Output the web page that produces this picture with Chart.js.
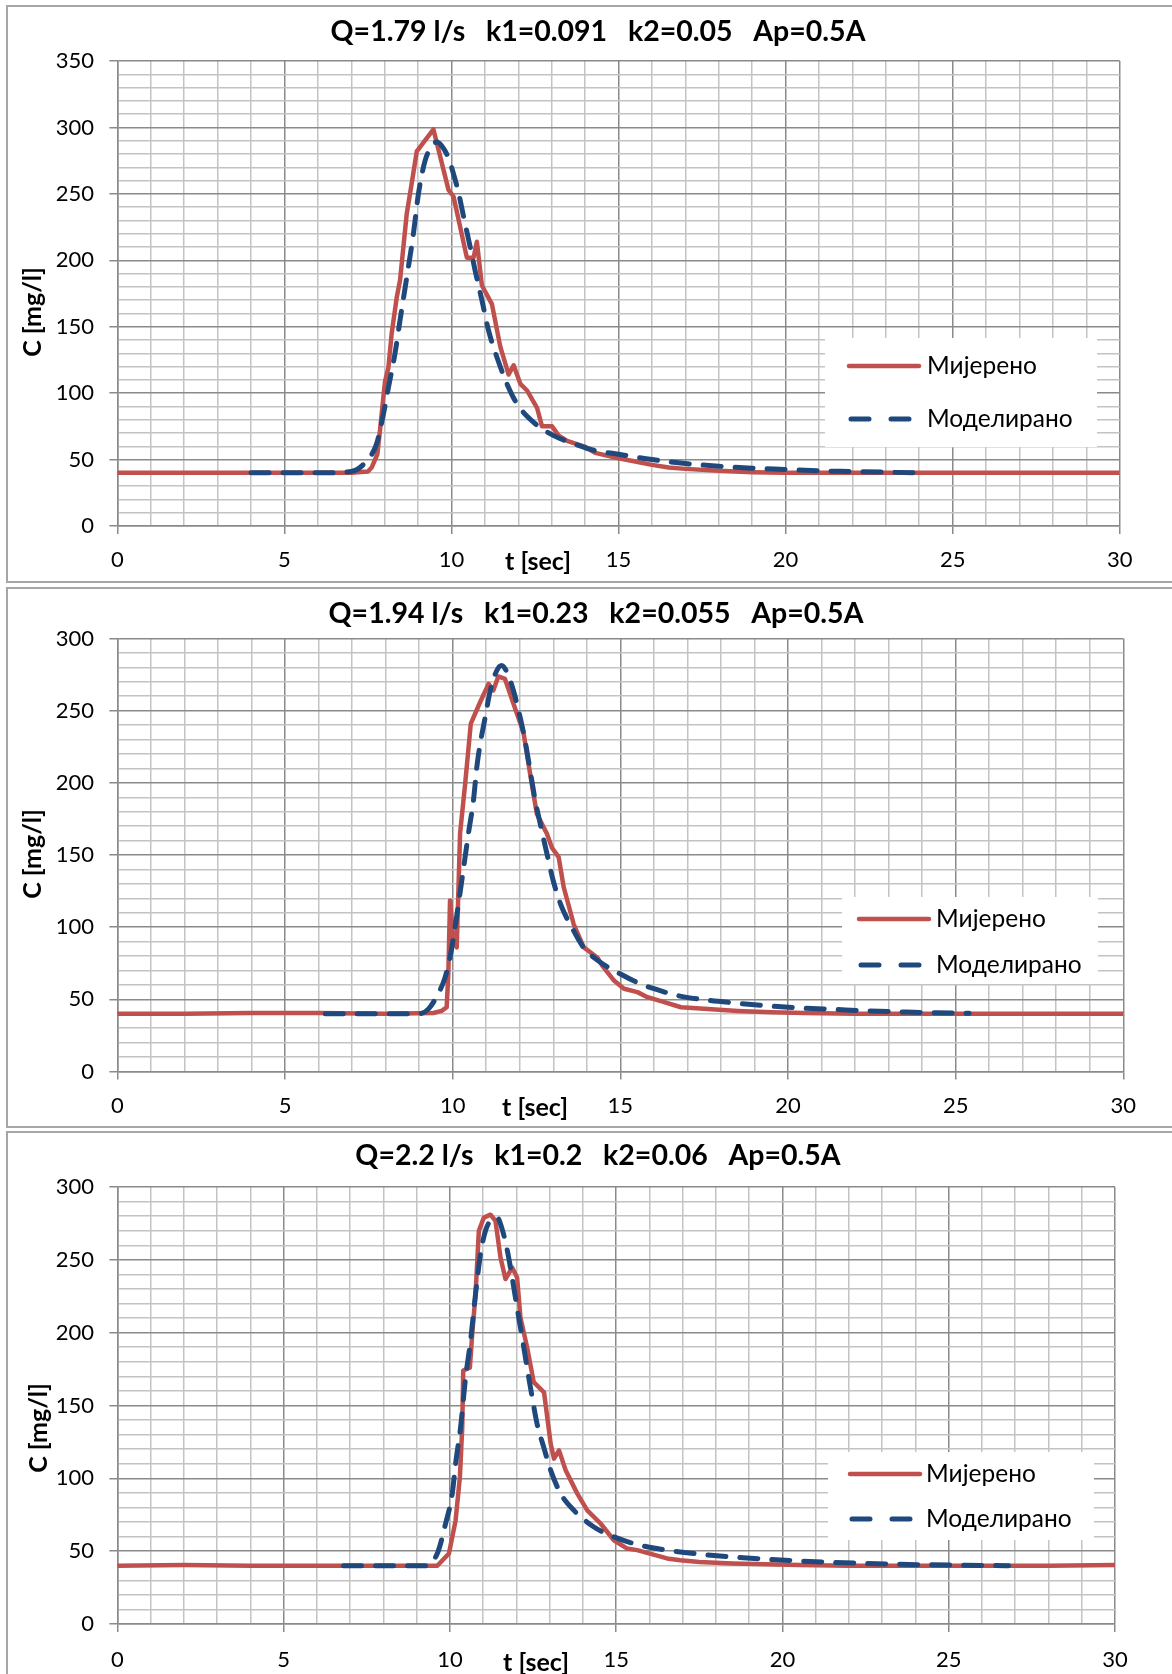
<!DOCTYPE html>
<html>
<head>
<meta charset="utf-8">
<script src="https://cdn.jsdelivr.net/npm/chart.js@4.4.1/dist/chart.umd.min.js"></script>
<style>
  html, body { margin: 0; padding: 0; background: #fff; overflow: hidden; }
  body { width: 1172px; height: 1674px; position: relative; }
  .panel { position: absolute; left: 6px; width: 1180px; box-sizing: border-box; border: 2px solid #a6a6a6; }
  canvas { position: absolute; left: 0; }
</style>
</head>
<body>
<div class="panel" style="top:5px;height:578px"></div>
<div class="panel" style="top:587px;height:541px"></div>
<div class="panel" style="top:1131px;height:560px"></div>
<canvas id="c1" width="1172" height="574" style="top:8px"></canvas>
<canvas id="c2" width="1172" height="536" style="top:590px"></canvas>
<canvas id="c3" width="1172" height="540" style="top:1134px"></canvas>
<script>
/* ============================================================
   DATA
============================================================ */
const TITLES = [
  'Q=1.79 l/s   k1=0.091   k2=0.05   Ap=0.5A',
  'Q=1.94 l/s   k1=0.23   k2=0.055   Ap=0.5A',
  'Q=2.2 l/s   k1=0.2   k2=0.06   Ap=0.5A'
];
const SERIES_NAMES = ['Мијерено', 'Моделирано'];
const X_TITLE = 't [sec]';
const Y_TITLE = 'C [mg/l]';
const Y_MAX = [350, 300, 300];

/* chart 1 — measured */
const t1m = [0, 2, 4, 6, 7.0, 7.5, 7.61, 7.78, 7.86, 8.01, 8.11, 8.21, 8.36, 8.46, 8.66, 8.81, 8.96, 9.46,
  9.91, 10.06, 10.46, 10.66, 10.76, 10.91, 11.21, 11.46, 11.71, 11.86, 12.06, 12.26, 12.56, 12.71, 13.01,
  13.21, 13.46, 13.96, 14.3, 15, 15.5, 16, 16.5, 17, 18, 19, 20, 22, 24, 26, 28, 30];
const c1m = [40, 40, 40, 40, 40, 41, 44, 54, 72, 109, 119, 145, 172, 185, 235, 258, 282, 298.5,
  253, 248, 202, 202, 214, 181, 167, 135, 114, 121, 107, 102, 89, 75, 75,
  68, 64, 60, 55, 51, 48.5, 46, 44, 43, 41.5, 40.5, 40, 40, 40, 40, 40, 40];
/* chart 1 — model */
const t1s = [4, 5, 6, 7.0, 7.46, 7.76, 7.96, 8.11, 8.31, 8.46, 8.66, 8.86, 9.01, 9.21, 9.41, 9.56, 9.71, 9.91,
  10.06, 10.21, 10.36, 10.56, 10.71, 10.91, 11.11, 11.36, 11.66, 11.96, 12.46, 13.06, 13.66, 14.26,
  15, 16, 17, 18, 19, 20, 21, 22, 23, 24];
const c1s = [40, 40, 40, 41, 49, 62, 84, 104, 130, 155, 187, 220, 250, 275, 286, 289, 286, 277,
  265, 251, 233, 210, 192, 170, 147, 127, 107, 92, 78, 68, 62, 57,
  54, 50, 47, 45, 43.5, 42.5, 41.5, 41, 40.5, 40];

/* chart 2 — measured */
const t2m = [0, 2, 4, 6, 8, 9.42, 9.67, 9.82, 9.87, 9.92, 10.02, 10.12, 10.22, 10.37, 10.54, 10.82, 11.07,
  11.21, 11.36, 11.56, 11.81, 12.11, 12.36, 12.51, 12.81, 12.96, 13.16, 13.31, 13.61, 13.91, 14.31,
  14.46, 14.81, 15.11, 15.51, 15.81, 16.31, 16.81, 17.5, 18.5, 19.5, 20.5, 22, 24, 26, 28, 30];
const c2m = [40, 40, 40.5, 40.5, 40, 40.5, 42, 44.5, 68, 118.5, 91, 86, 165, 199, 241, 256, 268.6,
  264, 273.7, 272, 255, 235, 199, 178.5, 164.7, 155, 148.5, 127.7, 102, 86, 79,
  73.4, 63, 57.3, 55, 51.5, 48, 44.5, 43.5, 42, 41, 40.5, 40, 40, 40, 40, 40];
/* chart 2 — model */
const t2s = [6.2, 7, 8, 9, 9.28, 9.57, 9.77, 9.92, 10.07, 10.27, 10.47, 10.62, 10.72, 10.82, 10.97, 11.12,
  11.32, 11.46, 11.61, 11.81, 12.01, 12.16, 12.31, 12.46, 12.61, 12.81, 13.0, 13.25, 13.55, 13.9,
  14.4, 14.99, 15.59, 16.19, 16.69, 17.4, 18.4, 19.4, 20.4, 21.4, 22.4, 23.4, 24.4, 25.4];
const c2s = [40, 40, 40, 40, 43.4, 54, 65, 79, 100, 132, 165, 188, 211, 227, 245.5, 264,
  278, 281.3, 277, 264, 245.5, 229, 208.5, 188, 171.6, 151, 132, 114, 100, 86,
  75.7, 67.7, 60.8, 56, 52.7, 50, 47.5, 45.5, 44, 43, 42, 41.3, 40.7, 40.3];

/* chart 3 — measured */
const t3m = [0, 2, 4, 6, 8, 9.62, 9.97, 10.17, 10.30, 10.37, 10.40, 10.60, 10.67, 10.77, 10.87, 11.02,
  11.22, 11.37, 11.52, 11.67, 11.87, 12.02, 12.12, 12.32, 12.52, 12.83, 13.03, 13.13, 13.28, 13.48,
  13.83, 14.13, 14.53, 14.93, 15.33, 15.63, 15.93, 16.53, 16.93, 17.5, 18.5, 19.5, 20.5, 22, 25, 28, 30];
const c3m = [40, 40.5, 40, 40, 40, 40, 48.4, 71, 101, 135, 174, 176, 199, 226.5, 270, 279,
  281, 276.7, 251.6, 236.8, 244.7, 237.9, 210.5, 190, 166, 159, 123.8, 113.5, 119.2, 105.5,
  89.5, 78, 69, 57.5, 51.8, 50.7, 48.8, 45, 43.8, 42.5, 41.5, 41, 40.5, 40, 40, 40, 40.5];
/* chart 3 — model */
const t3s = [6.8, 8, 9.26, 9.62, 9.87, 10.07, 10.17, 10.32, 10.47, 10.62, 10.77, 10.92, 11.07, 11.27,
  11.42, 11.57, 11.72, 11.87, 12.02, 12.17, 12.32, 12.47, 12.62, 12.82, 13.03, 13.33, 13.73, 14.33,
  14.93, 15.73, 16.53, 17.5, 18.5, 19.5, 20.5, 21.5, 22.5, 23.5, 24.5, 25.5, 26.8];
const c3s = [40, 40, 40, 48.4, 69, 89.5, 110, 135, 169, 194.5, 226.5, 254, 270, 278,
  279, 271, 257, 238, 217, 197, 176, 156, 137.5, 121.4, 105.5, 89.5, 78, 66.6,
  59.8, 54, 50.7, 48, 46, 44.5, 43.3, 42.3, 41.6, 41, 40.6, 40.3, 40];

/* ============================================================
   STYLE
============================================================ */
const FONT   = 'Lato, "Open Sans", sans-serif';
const RED    = '#c0504d';
const BLUE   = '#1f497d';
const MAJOR  = '#8a8a8a';
const MINOR  = '#c3c3c3';
const DASH   = [18, 14];

Chart.defaults.font.family = FONT;
Chart.defaults.color = '#000';

/* title, axis titles + legend box sit where Excel put them, so draw them here */
const overlay = {
  id: 'overlay',
  afterDraw(chart, args, o) {
    const ctx = chart.ctx;
    ctx.save();

    // legend box
    const b = o.box;
    ctx.fillStyle = '#fff';
    ctx.fillRect(b[0], b[1], b[2] - b[0], b[3] - b[1]);
    ctx.lineCap = 'round';
    ctx.strokeStyle = RED;
    ctx.lineWidth = 4.5;
    ctx.beginPath();
    ctx.moveTo(o.line[0], o.rows[0]);
    ctx.lineTo(o.line[1], o.rows[0]);
    ctx.stroke();
    ctx.strokeStyle = BLUE;
    ctx.lineWidth = 5;
    ctx.setLineDash([18, 22]);
    ctx.beginPath();
    ctx.moveTo(o.line[0] + 2, o.rows[1]);
    ctx.lineTo(o.line[1], o.rows[1]);
    ctx.stroke();
    ctx.setLineDash([]);

    ctx.fillStyle = '#000';
    ctx.textAlign = 'left';
    ctx.textBaseline = 'middle';
    ctx.font = `24.5px ${FONT}`;
    ctx.fillText(SERIES_NAMES[0], o.textX, o.rows[0]);
    ctx.fillText(SERIES_NAMES[1], o.textX, o.rows[1]);

    // chart title
    ctx.textAlign = 'center';
    ctx.font = `bold 28.5px ${FONT}`;
    ctx.fillText(TITLES[o.k], o.title[0], o.title[1]);

    // axis titles
    ctx.font = `bold 25px ${FONT}`;
    ctx.fillText(X_TITLE, o.xTitle[0], o.xTitle[1]);
    ctx.translate(o.yTitle[0], o.yTitle[1]);
    ctx.rotate(-Math.PI / 2);
    ctx.fillText(Y_TITLE, 0, 0);
    ctx.restore();
  }
};

function pts(ts, cs) { return ts.map((t, i) => ({ x: t, y: cs[i] })); }

/* ============================================================
   CHART FACTORY
============================================================ */
function makeChart(id, k, measured, model, L) {
  new Chart(document.getElementById(id), {
    type: 'line',
    data: {
      datasets: [
        {
          label: SERIES_NAMES[0], data: measured, order: 1,
          borderColor: RED, borderWidth: 4.5, pointRadius: 0, tension: 0,
          borderJoinStyle: 'round', borderCapStyle: 'round'
        },
        {
          label: SERIES_NAMES[1], data: model, order: 0,
          borderColor: BLUE, borderWidth: 5, pointRadius: 0, cubicInterpolationMode: 'monotone',
          borderDash: DASH, borderCapStyle: 'round', borderJoinStyle: 'round'
        }
      ]
    },
    options: {
      responsive: false,
      animation: false,
      layout: { padding: { left: 0, right: L.padRight, top: L.top, bottom: 0 } },
      plugins: {
        legend: { display: false },
        tooltip: { enabled: false },
        title: { display: false },
        overlay: Object.assign({ k }, L.overlay)
      },
      scales: {
        x: {
          type: 'linear', min: 0, max: 30,
          afterFit: s => { s.height = L.xHeight; },
          ticks: {
            stepSize: 1, autoSkip: false, maxRotation: 0, padding: L.xPad,
            font: { size: 22 }, color: '#000',
            callback: v => (v % 5 === 0 ? v : '')
          },
          grid: {
            lineWidth: 1.5, tickLength: 8,
            color: c => (c.tick && c.tick.value % 5 === 0 ? MAJOR : MINOR),
            tickColor: c => (c.tick && c.tick.value % 5 === 0 ? MAJOR : 'rgba(0,0,0,0)')
          },
          border: { color: MAJOR, width: 1.5 }
        },
        y: {
          min: 0, max: Y_MAX[k],
          afterFit: s => { s.width = 117.4; },
          ticks: {
            stepSize: 10, autoSkip: false, padding: 15.4,
            font: { size: 22 }, color: '#000',
            callback: v => (v % 50 === 0 ? v : '')
          },
          grid: {
            lineWidth: 1.5, tickLength: 8,
            color: c => (c.tick && c.tick.value % 50 === 0 ? MAJOR : MINOR),
            tickColor: c => (c.tick && c.tick.value % 50 === 0 ? MAJOR : 'rgba(0,0,0,0)')
          },
          border: { color: MAJOR, width: 1.5 }
        }
      }
    },
    plugins: [overlay]
  });
}

/* ============================================================
   BOOT
============================================================ */
makeChart('c1', 0, pts(t1m, c1m), pts(t1s, c1s), {
  top: 53, padRight: 52.3, xHeight: 56, xPad: 12.8,
  overlay: { title: [598, 24], box: [825, 330, 1097, 439], line: [849, 919], rows: [358, 411], textX: 927,
             xTitle: [538, 554], yTitle: [33, 304] }
});
makeChart('c2', 1, pts(t2m, c2m), pts(t2s, c2s), {
  top: 48.5, padRight: 48.7, xHeight: 54.5, xPad: 13,
  overlay: { title: [596, 24], box: [842, 307, 1098, 394], line: [859, 929], rows: [329, 375], textX: 936,
             xTitle: [535, 518], yTitle: [33, 264] }
});
makeChart('c3', 2, pts(t3m, c3m), pts(t3s, c3s), {
  top: 53, padRight: 57, xHeight: 50, xPad: 14.8,
  overlay: { title: [598, 22], box: [828, 318, 1094, 406], line: [850, 920], rows: [340, 385], textX: 926,
             xTitle: [536, 529], yTitle: [39, 294] }
});
</script>
</body>
</html>
